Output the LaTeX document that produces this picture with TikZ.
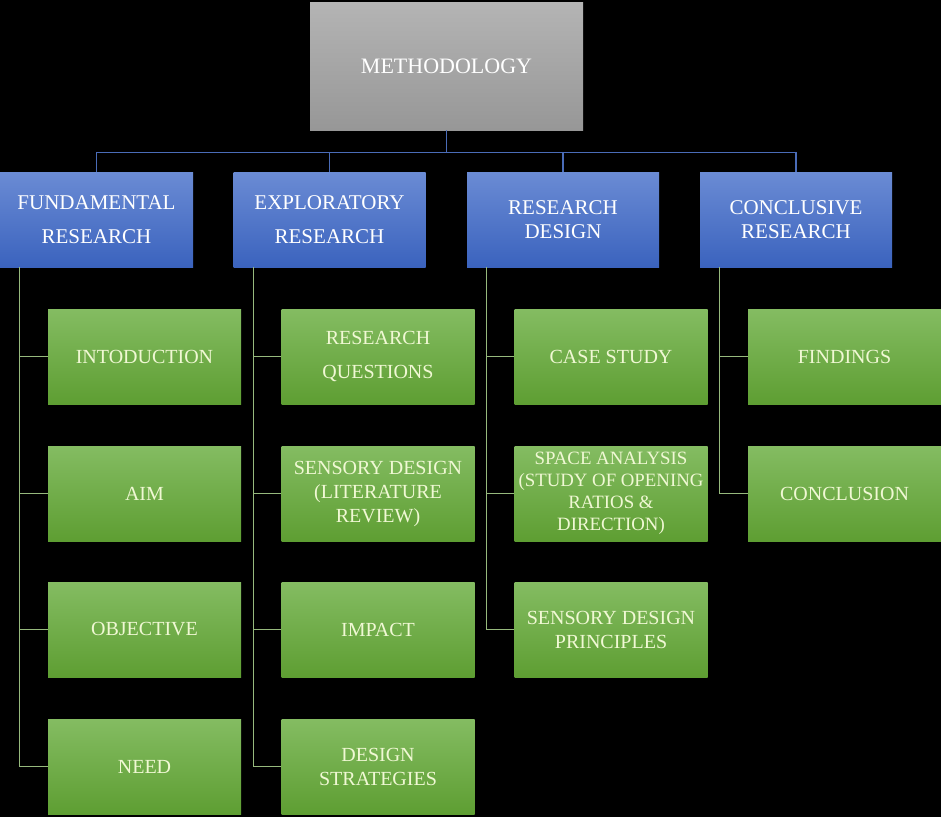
\documentclass[tikz,border=0pt]{standalone}
\usepackage{fontspec}
\setmainfont{Liberation Serif}
\usepackage{tikz}
\usetikzlibrary{positioning}
\definecolor{headTop}{RGB}{180,180,180}
\definecolor{headBottom}{RGB}{151,151,151}
\definecolor{stageTop}{RGB}{106,139,212}
\definecolor{stageBottom}{RGB}{59,99,190}
\definecolor{taskTop}{RGB}{132,188,98}
\definecolor{taskBottom}{RGB}{94,158,50}
\definecolor{taskText}{RGB}{240,248,212}
\definecolor{busColor}{RGB}{74,108,184}
\definecolor{spineColor}{RGB}{150,185,125}
\tikzstyle{chart} = [x = 1pt, y = -1pt]
\tikzstyle{headBox} = [top color=headTop, bottom color=headBottom, minimum width=273pt, minimum height=128pt, inner sep=0pt, text=white, font=\fontsize{22}{26}\selectfont]
\tikzstyle{stageBox} = [top color=stageTop, bottom color=stageBottom, minimum width=192pt, minimum height=95pt, inner sep=0pt, align=center, text=white, font=\fontsize{21}{34}\selectfont]
\tikzstyle{stageTight} = [font=\fontsize{21}{24.5}\selectfont]
\tikzstyle{taskBox} = [top color=taskTop, bottom color=taskBottom, minimum width=193pt, minimum height=95pt, inner sep=0pt, align=center, text=taskText, font=\fontsize{20}{34}\selectfont]
\tikzstyle{taskTight} = [font=\fontsize{20}{24}\selectfont]
\tikzstyle{taskSmall} = [font=\fontsize{18.8}{22}\selectfont]
\tikzstyle{busLine} = [color=busColor, line width=1.2pt]
\tikzstyle{spineLine} = [color=spineColor, line width=0.9pt]
\newcommand{\spine}[2]{\draw [spineLine] ([xshift=20pt]#1.south west) |- (#2.west);}

\begin{document}
\begin{tikzpicture}[chart]
  \fill [black] (0,0) rectangle (941,817);
  \useasboundingbox (0,0) rectangle (941,817);

  % top
  \node [headBox] (method) at (446.5,66) {METHODOLOGY};

  % stages
  \node [stageBox, minimum width=193pt] (fundamental) at (96.5,219.5) {FUNDAMENTAL\\RESEARCH};
  \node [stageBox] (exploratory) at (329.5,219.5) {EXPLORATORY\\RESEARCH};
  \node [stageBox, stageTight] (design) at (563,219.5) {RESEARCH\\DESIGN};
  \node [stageBox, stageTight] (conclusive) at (796,219.5) {CONCLUSIVE\\RESEARCH};

  \draw [busLine] (method.south) -- ++(0,22) -| (fundamental.north);
  \draw [busLine] (method.south) -- ++(0,22) -| (exploratory.north);
  \draw [busLine] (method.south) -- ++(0,22) -| (design.north);
  \draw [busLine] (method.south) -- ++(0,22) -| (conclusive.north);

  % fundamental research
  \node [taskBox] (intro) at (144.5,356.5) {INTODUCTION};
  \node [taskBox] (aim) at (144.5,493.5) {AIM};
  \node [taskBox] (objective) at (144.5,629.5) {OBJECTIVE};
  \node [taskBox] (need) at (144.5,766.5) {NEED};

  % exploratory research
  \node [taskBox] (questions) at (378,356.5) {RESEARCH\\QUESTIONS};
  \node [taskBox, taskTight] (literature) at (378,493.5) {SENSORY DESIGN\\(LITERATURE\\REVIEW)};
  \node [taskBox] (impact) at (378,629.5) {IMPACT};
  \node [taskBox, taskTight] (strategies) at (378,766.5) {DESIGN\\STRATEGIES};

  % research design
  \node [taskBox] (casestudy) at (611,356.5) {CASE STUDY};
  \node [taskBox, taskSmall] (space) at (611,493.5) {SPACE ANALYSIS\\(STUDY OF OPENING\\RATIOS \&\\DIRECTION)};
  \node [taskBox, taskTight] (principles) at (611,629.5) {SENSORY DESIGN\\PRINCIPLES};

  % conclusive research
  \node [taskBox] (findings) at (844.5,356.5) {FINDINGS};
  \node [taskBox] (conclusion) at (844.5,493.5) {CONCLUSION};

  \spine{fundamental}{intro}
  \spine{fundamental}{aim}
  \spine{fundamental}{objective}
  \spine{fundamental}{need}
  \spine{exploratory}{questions}
  \spine{exploratory}{literature}
  \spine{exploratory}{impact}
  \spine{exploratory}{strategies}
  \spine{design}{casestudy}
  \spine{design}{space}
  \spine{design}{principles}
  \spine{conclusive}{findings}
  \spine{conclusive}{conclusion}
\end{tikzpicture}
\end{document}
